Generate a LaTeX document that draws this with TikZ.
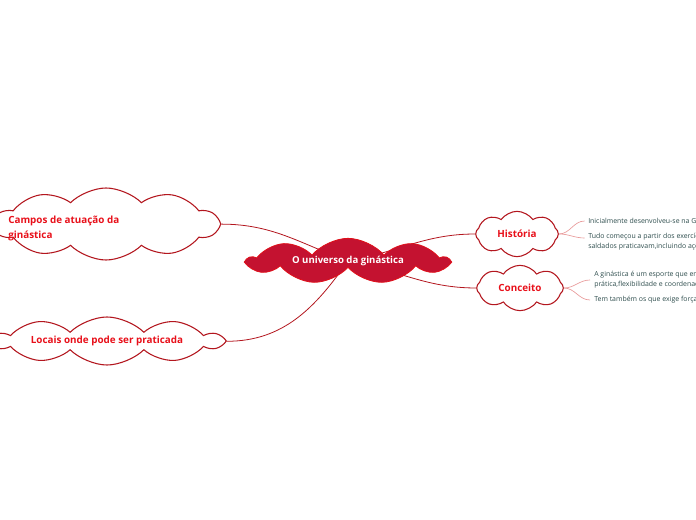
\documentclass[tikz,border=0pt]{standalone}
\usepackage{fontspec}
\setmainfont{Open Sans}
\usetikzlibrary{shapes.symbols,positioning,backgrounds}
\definecolor{crimson}{HTML}{C41230}
\definecolor{rimred}{HTML}{E0101A}
\definecolor{branch}{HTML}{B3161E}
\definecolor{twig}{HTML}{E89A9A}
\definecolor{labelred}{HTML}{E8101A}
\definecolor{notes}{HTML}{2E4D4D}
\tikzset{
  hub/.style={cloud,cloud puffs=9,cloud puff arc=100,aspect=8,draw=rimred,
              fill=crimson,line width=0.6pt,inner sep=0pt,text=white,
              font=\bfseries\fontsize{7.2}{9}\selectfont},
  topic/.style={cloud,cloud puffs=10,cloud puff arc=90,aspect=10,draw=branch,
                fill=white,line width=0.8pt,inner sep=0pt,text=labelred,
                font=\bfseries\fontsize{7.4}{11.2}\selectfont},
  subtopic/.style={topic,cloud puffs=8,cloud puff arc=110,aspect=2.4},
  note/.style={anchor=west,inner sep=0pt,text=notes,align=left,
               font=\fontsize{5.2}{7.5}\selectfont},
  branchline/.style={draw=branch,line width=0.6pt},
  twigline/.style={draw=twig,line width=0.5pt},
}
\begin{document}
\begin{tikzpicture}[x=0.75pt,y=-0.75pt]
  \clip (0,0) rectangle (696,520);
  % central idea
  \node[hub,minimum width=150pt,minimum height=34pt](hub)at(348,261){O universo da ginástica};
  % main topics
  \node[topic,aspect=3.5,minimum width=168pt,minimum height=54pt](campos)at(106,224){};
  \node[anchor=west,align=left,inner sep=0pt,text=labelred,
        font=\bfseries\fontsize{7.4}{11.2}\selectfont](camposlbl)at(8,228)
        {Campos de atuação da\\ginástica};
  \node[topic,minimum width=172pt,minimum height=34pt](locais)at(107,341){Locais onde pode ser praticada};
  \node[subtopic,minimum width=62pt,minimum height=34pt](historia)at(517,234){História};
  \node[subtopic,minimum width=65pt,minimum height=34pt](conceito)at(520,288){Conceito};
  % connectors, behind the clouds
  \begin{scope}[on background layer]
    \draw[branchline](campos.east) to[out=0,in=160] (hub.center);
    \draw[branchline](locais.east) to[out=0,in=235] (hub.center);
    \draw[branchline](hub.center) to[out=10,in=180] (historia.west);
    \draw[branchline](hub.center) to[out=-10,in=180] (conceito.west);
  \end{scope}
  % notes
  \node[note](inicio)at(588,221){Inicialmente desenvolveu-se na Grécia};
  \node[note](tudo)at(588,242){Tudo começou a partir dos exercícios que os\\saldados praticavam,incluindo ações};
  \node[note](esporte)at(594,280){A ginástica é um esporte que envolve\\prática,flexibilidade e coordenação};
  \node[note](forca)at(594,300){Tem também os que exige força};
  \draw[twigline](historia.east) to[out=0,in=180] ([xshift=-2.5pt]inicio.west);
  \draw[twigline](historia.east) to[out=0,in=180] ([xshift=-2.5pt,yshift=3pt]tudo.west);
  \draw[twigline](conceito.east) to[out=0,in=180] ([xshift=-3pt]esporte.west);
  \draw[twigline](conceito.east) to[out=0,in=180] ([xshift=-3pt]forca.west);
\end{tikzpicture}
\end{document}
